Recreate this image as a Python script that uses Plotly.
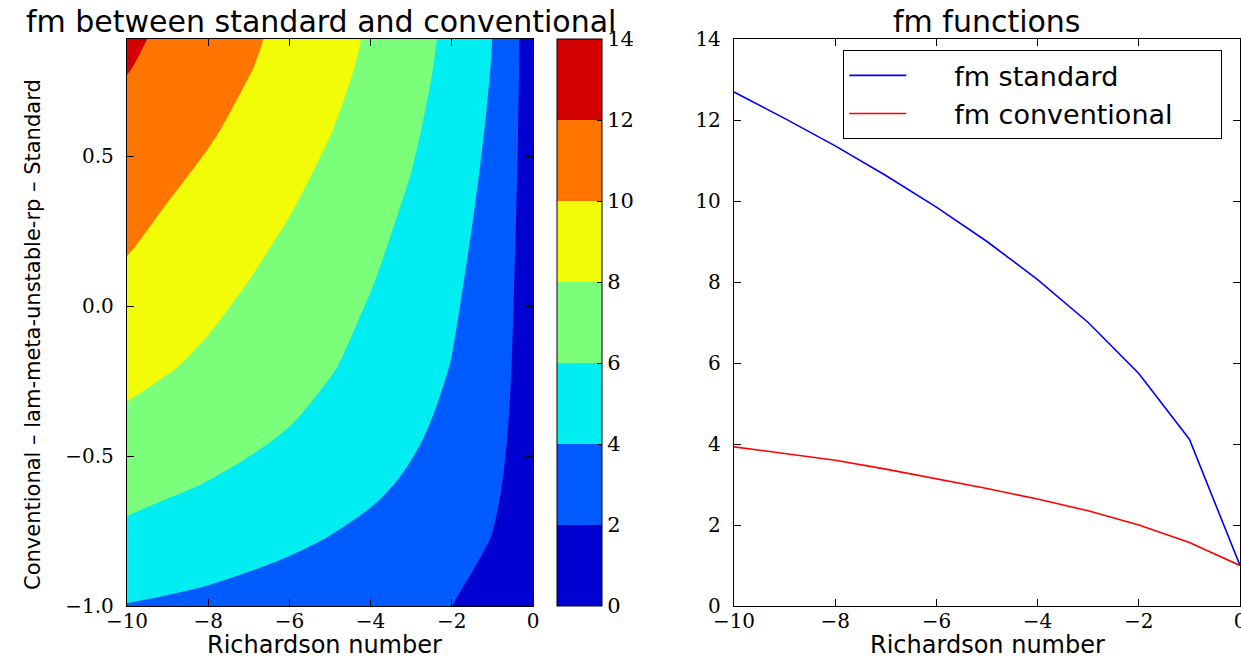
import plotly.graph_objects as go

W, H = 1241, 657

# ---- data ----
ri_grid = [-10, -9, -8, -7, -6, -5, -4, -3, -2, -1, 0]
mix_grid = [-1.0, -0.8, -0.6, -0.4, -0.2, 0.0, 0.2, 0.4, 0.6, 0.8, 0.89]
fm_grid = [
    [3.93, 3.77, 3.60, 3.38, 3.14, 2.90, 2.64, 2.35, 2.00, 1.57, 1.00],
    [5.40, 5.02, 4.75, 4.47, 4.17, 3.84, 3.48, 3.05, 2.54, 1.91, 1.00],
    [6.60, 6.26, 5.91, 5.56, 5.17, 4.75, 4.29, 3.75, 3.10, 2.30, 1.00],
    [7.64, 7.27, 6.89, 6.46, 6.01, 5.51, 4.96, 4.33, 3.57, 2.63, 1.00],
    [8.53, 8.12, 7.68, 7.19, 6.68, 6.12, 5.50, 4.79, 3.95, 2.89, 1.00],
    [9.35, 8.82, 8.30, 7.75, 7.18, 6.57, 5.90, 5.14, 4.23, 3.08, 1.00],
    [10.13, 9.52, 8.94, 8.34, 7.72, 7.06, 6.34, 5.51, 4.53, 3.29, 1.00],
    [10.79, 10.18, 9.60, 8.96, 8.29, 7.57, 6.79, 5.91, 4.85, 3.51, 1.00],
    [11.44, 10.85, 10.24, 9.56, 8.86, 8.09, 7.25, 6.30, 5.17, 3.73, 1.00],
    [12.10, 11.45, 10.80, 10.10, 9.35, 8.54, 7.66, 6.65, 5.46, 3.93, 1.00],
    [12.35, 11.65, 10.98, 10.27, 9.52, 8.70, 7.79, 6.77, 5.55, 3.99, 1.00],
]

ri_line = [-10, -9, -8, -7, -6, -5, -4, -3, -2, -1, 0]
fm_standard = [12.69, 12.04, 11.36, 10.63, 9.85, 9.00, 8.06, 7.00, 5.74, 4.12, 1.00]
fm_conventional = [3.93, 3.77, 3.60, 3.38, 3.14, 2.90, 2.64, 2.35, 2.00, 1.57, 1.00]

level_start, level_end, level_step = 0, 14, 2
band_colors = ['#0000d1', '#005bff', '#00edf1', '#7bff7b', '#f1fc06', '#ff7500', '#d20000']

x_ticks = [-10, -8, -6, -4, -2, 0]
x_ticktext = ['\u221210', '\u22128', '\u22126', '\u22124', '\u22122', '0']
y1_ticks = [-1.0, -0.5, 0.0, 0.5]
y1_ticktext = ['\u22121.0', '\u22120.5', '0.0', '0.5']
y2_ticks = [0, 2, 4, 6, 8, 10, 12, 14]
cb_ticks = [0, 2, 4, 6, 8, 10, 12, 14]

title_left = 'fm between standard and conventional'
title_right = 'fm functions'
x_label = 'Richardson number'
y_label = 'Conventional \u2013 lam-meta-unstable-rp \u2013 Standard'
legend_names = ['fm standard', 'fm conventional']

# ---- styling ----
SERIF = 'DejaVu Serif'
SANS = 'DejaVu Sans'
LEAD = '\u00a0' * 5
TRAIL = '\u00a0' * 5


def fx(p):
    return p / W


def fy(p):
    return 1 - p / H


# contour fill colorscale: plotly evaluates band midpoints at k/8 positions
n = len(band_colors)
cscale = [[0.0, band_colors[0]]]
for k, c in enumerate(band_colors):
    cscale.append([(k + 1) / (n + 1), c])
cscale.append([1.0, band_colors[-1]])

# stepped colorscale for the colorbar over [0, 14]
cb_scale = []
for k, c in enumerate(band_colors):
    cb_scale.append([k / n, c])
    cb_scale.append([(k + 1) / n, c])

fig = go.Figure()
fig.add_trace(go.Contour(
    x=ri_grid, y=mix_grid, z=fm_grid,
    autocontour=False,
    contours=dict(start=level_start, end=level_end, size=level_step,
                  coloring='fill', showlines=False),
    line=dict(width=0),
    colorscale=cscale,
    showscale=False,
    showlegend=False,
    hoverinfo='skip',
    xaxis='x', yaxis='y',
))

# carrier of the discrete colorbar (no visible points)
fig.add_trace(go.Scatter(
    x=[None], y=[None], mode='markers', showlegend=False, hoverinfo='skip',
    marker=dict(color=[level_start], colorscale=cb_scale, cmin=level_start, cmax=level_end,
                showscale=True,
                colorbar=dict(
                    x=fx(557), xanchor='left', xref='paper',
                    y=fy(39), yanchor='top', yref='paper',
                    len=(606 - 39) / H, lenmode='fraction',
                    thickness=45, thicknessmode='pixels',
                    outlinewidth=1, outlinecolor='black',
                    tickvals=cb_ticks, ticks='inside', ticklen=5, tickcolor='black',
                    tickfont=dict(family=SERIF, size=21, color='black'),
                    xpad=0, ypad=0,
                )),
    xaxis='x', yaxis='y',
))

fig.add_trace(go.Scatter(x=ri_line, y=fm_standard, mode='lines',
                         name=LEAD + legend_names[0] + TRAIL,
                         line=dict(color='#0000ff', width=1.6), xaxis='x2', yaxis='y2'))
fig.add_trace(go.Scatter(x=ri_line, y=fm_conventional, mode='lines',
                         name=LEAD + legend_names[1] + TRAIL,
                         line=dict(color='#ff0000', width=1.6), xaxis='x2', yaxis='y2'))

axis_common = dict(showline=True, linecolor='black', linewidth=1.3, mirror='ticks',
                   ticks='inside', ticklen=7, tickwidth=1, tickcolor='black',
                   showgrid=False, zeroline=False,
                   tickfont=dict(family=SERIF, size=20, color='black'))

fig.update_layout(
    width=W, height=H,
    template='none',
    paper_bgcolor='white', plot_bgcolor='white',
    margin=dict(l=0, r=0, t=0, b=0),
    xaxis=dict(domain=[fx(127), fx(533)], range=[-10, 0], tickvals=x_ticks, ticktext=x_ticktext,
               anchor='y', ticklabelstandoff=-3, **axis_common),
    yaxis=dict(domain=[fy(606), fy(39)], range=[-1, 0.89], tickvals=y1_ticks, ticktext=y1_ticktext,
               anchor='x', ticklabelstandoff=8, **axis_common),
    xaxis2=dict(domain=[fx(734), fx(1240)], range=[-10, 0], tickvals=x_ticks, ticktext=x_ticktext,
                anchor='y2', ticklabeloverflow='allow', ticklabelstandoff=-3, **axis_common),
    yaxis2=dict(domain=[fy(606), fy(39)], range=[0, 14], tickvals=y2_ticks,
                anchor='x2', ticklabelstandoff=8, **axis_common),
    legend=dict(x=fx(843), y=fy(50), xanchor='left', yanchor='top',
                bordercolor='black', borderwidth=1.3, bgcolor='white',
                font=dict(family=SANS, size=27, color='black'),
                itemwidth=57, tracegroupgap=0),
    annotations=[
        dict(text=title_left, x=fx(321), y=fy(21), xref='paper', yref='paper',
             xanchor='center', yanchor='middle', showarrow=False,
             font=dict(family=SANS, size=30, color='black')),
        dict(text=title_right, x=fx(987), y=fy(21), xref='paper', yref='paper',
             xanchor='center', yanchor='middle', showarrow=False,
             font=dict(family=SANS, size=30, color='black')),
        dict(text=x_label, x=fx(324), y=fy(645), xref='paper', yref='paper',
             xanchor='center', yanchor='middle', showarrow=False,
             font=dict(family=SANS, size=24, color='black')),
        dict(text=x_label, x=fx(987), y=fy(645), xref='paper', yref='paper',
             xanchor='center', yanchor='middle', showarrow=False,
             font=dict(family=SANS, size=24, color='black')),
        dict(text=y_label, x=fx(33), y=fy(335), xref='paper', yref='paper',
             xanchor='center', yanchor='middle', showarrow=False, textangle=-90,
             font=dict(family=SANS, size=21, color='black')),
    ],
)

fig.write_html('out.html',
               config={'displayModeBar': False},
               post_script="document.body.style.margin='0px';"
                           "document.documentElement.style.overflow='hidden';")
